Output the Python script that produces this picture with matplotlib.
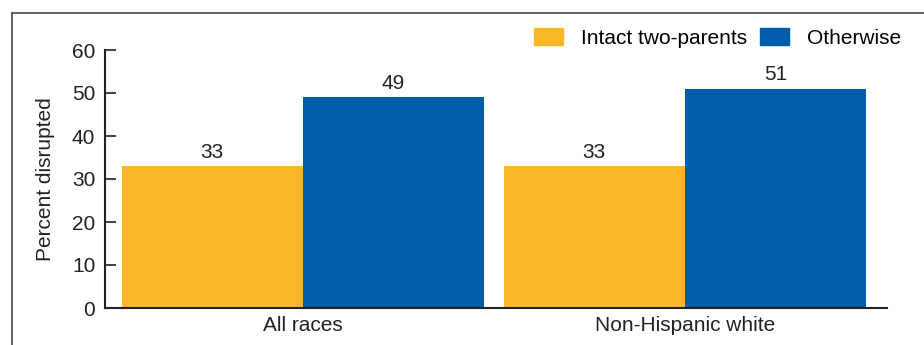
import matplotlib.pyplot as plt
import matplotlib.lines as mlines
import matplotlib.patches as mpatches
import numpy as np

plt.rcParams['font.family'] = ['Liberation Sans', 'DejaVu Sans']

categories = ['All races', 'Non-Hispanic white']
series_names = ['Intact two-parents', 'Otherwise']
intact = [33, 33]
otherwise = [49, 51]
colors = ['#FBB725', '#005DAA']

fs = 15
fig = plt.figure(figsize=(9.24, 3.45), dpi=100)
ax = fig.add_axes([105 / 924, 1 - 308 / 345, (887 - 105) / 924, (308 - 50) / 345])

x = np.arange(len(categories))
w = 0.474
b1 = ax.bar(x - w / 2, intact, w, color=colors[0], label=series_names[0])
b2 = ax.bar(x + w / 2, otherwise, w, color=colors[1], label=series_names[1])

for bars in (b1, b2):
    for r in bars:
        ax.text(r.get_x() + r.get_width() / 2, r.get_height() + 1.0, f'{r.get_height():.0f}',
                ha='center', va='bottom', fontsize=fs, color='#222222')

ax.set_xlim(-0.518, 1.529)
ax.set_ylim(0, 60)
ax.set_yticks(range(0, 61, 10))
ax.set_xticks(x)
ax.set_xticklabels(categories)
ax.tick_params(axis='y', direction='in', length=8, width=1.2, labelsize=fs, pad=7, colors='#222222')
ax.tick_params(axis='x', length=0, labelsize=fs, pad=6, colors='#222222')
for s in ('top', 'right'):
    ax.spines[s].set_visible(False)
for s in ('left', 'bottom'):
    ax.spines[s].set_linewidth(1.5)
    ax.spines[s].set_color('#222222')
ax.set_ylabel('Percent disrupted', fontsize=fs, color='#222222', labelpad=12)

handles = [mpatches.Patch(color=c, label=n) for c, n in zip(colors, series_names)]
fig.legend(handles=handles, loc='upper right', bbox_to_anchor=(901 / 924, 1 - 28 / 345),
           ncol=2, frameon=False, fontsize=fs, handlelength=1.4, handleheight=0.91,
           handletextpad=0.87, columnspacing=0.58, borderpad=0, borderaxespad=0)

# outer frame (cropped at right and bottom)
fx = 11.5 / 924
fy = 1 - 13 / 345
fig.add_artist(mlines.Line2D([fx, fx], [0, fy], transform=fig.transFigure, color='#555555', lw=1.3))
fig.add_artist(mlines.Line2D([fx, 1], [fy, fy], transform=fig.transFigure, color='#555555', lw=1.3))

fig.savefig('out.png', dpi=100)
